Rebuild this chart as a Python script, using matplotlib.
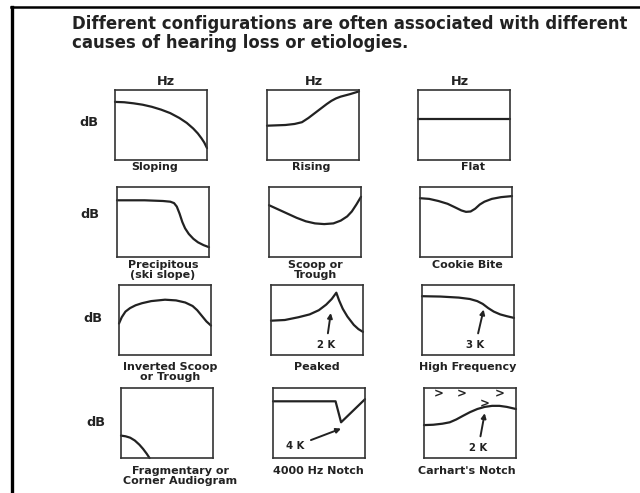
import matplotlib
matplotlib.use("Agg")
import matplotlib.pyplot as plt
from matplotlib.lines import Line2D

W, H = 640, 493
INK = "#222222"

TITLE_LINES = ["Different configurations are often associated with different",
               "causes of hearing loss or etiologies."]

PANEL_NAMES = ["Sloping", "Rising", "Flat",
               "Precipitous\n(ski slope)", "Scoop or\nTrough", "Cookie Bite",
               "Inverted Scoop\nor Trough", "Peaked", "High Frequency",
               "Fragmentary or\nCorner Audiogram", "4000 Hz Notch", "Carhart's Notch"]

# curve shapes, x = frequency (0..1), y = level (0 bottom .. 1 top)
SLOPING_X = [0, 0.1, 0.2, 0.3, 0.4, 0.5, 0.6, 0.7, 0.78, 0.85, 0.9, 0.94, 0.97, 1.0]
SLOPING_Y = [0.83, 0.825, 0.81, 0.79, 0.76, 0.72, 0.67, 0.60, 0.53, 0.45, 0.38, 0.31, 0.25, 0.17]
RISING_X = [0, 0.1, 0.2, 0.3, 0.38, 0.45, 0.5, 0.55, 0.6, 0.65, 0.7, 0.75, 0.8, 0.9, 1.0]
RISING_Y = [0.49, 0.495, 0.50, 0.515, 0.54, 0.60, 0.65, 0.70, 0.75, 0.80, 0.845, 0.88, 0.905, 0.94, 0.98]
FLAT_X = [0, 1.0]
FLAT_Y = [0.58, 0.58]
PRECIP_X = [0, 0.3, 0.5, 0.58, 0.62, 0.65, 0.68, 0.71, 0.74, 0.78, 0.83, 0.88, 0.94, 1.0]
PRECIP_Y = [0.81, 0.81, 0.80, 0.79, 0.77, 0.72, 0.62, 0.50, 0.41, 0.33, 0.26, 0.21, 0.17, 0.14]
SCOOP_X = [0, 0.1, 0.2, 0.3, 0.4, 0.5, 0.6, 0.7, 0.78, 0.85, 0.9, 0.95, 1.0]
SCOOP_Y = [0.74, 0.68, 0.62, 0.56, 0.51, 0.48, 0.47, 0.48, 0.52, 0.58, 0.65, 0.75, 0.86]
COOKIE_X = [0, 0.1, 0.2, 0.3, 0.38, 0.45, 0.5, 0.55, 0.6, 0.65, 0.7, 0.78, 0.88, 1.0]
COOKIE_Y = [0.84, 0.83, 0.80, 0.76, 0.71, 0.665, 0.645, 0.65, 0.69, 0.75, 0.79, 0.83, 0.855, 0.87]
INVSCOOP_X = [0, 0.03, 0.07, 0.12, 0.18, 0.25, 0.35, 0.5, 0.62, 0.72, 0.8, 0.85, 0.9, 0.95, 1.0]
INVSCOOP_Y = [0.45, 0.54, 0.62, 0.67, 0.71, 0.74, 0.77, 0.79, 0.78, 0.75, 0.70, 0.64, 0.56, 0.48, 0.42]
PEAKED_X = [0, 0.15, 0.3, 0.42, 0.52, 0.6, 0.66, 0.71, 0.74, 0.78, 0.83, 0.9, 0.95, 1.0]
PEAKED_Y = [0.49, 0.50, 0.54, 0.58, 0.64, 0.72, 0.80, 0.89, 0.78, 0.66, 0.55, 0.43, 0.37, 0.33]
HIGHFREQ_X = [0, 0.2, 0.4, 0.52, 0.6, 0.66, 0.72, 0.78, 0.85, 0.92, 1.0]
HIGHFREQ_Y = [0.84, 0.835, 0.82, 0.80, 0.77, 0.73, 0.67, 0.62, 0.58, 0.555, 0.53]
FRAG_X = [0, 0.05, 0.1, 0.15, 0.2, 0.24, 0.28, 0.31]
FRAG_Y = [0.32, 0.31, 0.29, 0.25, 0.19, 0.13, 0.06, 0.0]
NOTCH_X = [0, 0.68, 0.74, 1.0]
NOTCH_Y = [0.81, 0.81, 0.51, 0.84]
CARHART_X = [0, 0.1, 0.2, 0.28, 0.35, 0.42, 0.5, 0.58, 0.66, 0.74, 0.82, 0.9, 1.0]
CARHART_Y = [0.47, 0.475, 0.49, 0.51, 0.55, 0.60, 0.655, 0.70, 0.73, 0.745, 0.745, 0.73, 0.70]

CURVES = [(SLOPING_X, SLOPING_Y), (RISING_X, RISING_Y), (FLAT_X, FLAT_Y),
          (PRECIP_X, PRECIP_Y), (SCOOP_X, SCOOP_Y), (COOKIE_X, COOKIE_Y),
          (INVSCOOP_X, INVSCOOP_Y), (PEAKED_X, PEAKED_Y), (HIGHFREQ_X, HIGHFREQ_Y),
          (FRAG_X, FRAG_Y), (NOTCH_X, NOTCH_Y), (CARHART_X, CARHART_Y)]

# arrows pointing at the notch / peak frequency
ARROW_PANEL = [7, 8, 10, 11]
ARROW_TEXT = ["2 K", "3 K", "4 K", "2 K"]
ARROW_HEAD = [(0.65, 0.60), (0.67, 0.65), (0.74, 0.42), (0.66, 0.64)]
ARROW_TAIL = [(0.60, 0.14), (0.58, 0.14), (0.24, 0.17), (0.59, 0.14)]

# the ">" bone conduction marks on Carhart's notch
MARK_X = [0.16, 0.41, 0.82, 0.66]
MARK_Y = [0.91, 0.91, 0.92, 0.77]

# layout in pixels
COL_LEFT = [115, 267, 418]
ROW_SHIFT = [0, 2, 4, 6]
ROW_TOP = [90, 187, 285, 388]
BOX_W, BOX_H = 92, 70
LABEL_X = [155, 311, 473, 163, 315, 467, 170, 317, 468, 180, 318, 467]
LABEL_Y = [167, 265, 367, 471]
HZ_X = [166, 314, 460]
DB_X = [89, 90, 93, 96]
DB_Y = [123, 215, 318, 422]


def fx(px):
    return px / W


def fy(py):
    return 1 - py / H


fig = plt.figure(figsize=(6.4, 4.93), dpi=100)
fig.patch.set_facecolor("white")

# slide frame (left and top edge)
fig.add_artist(Line2D([fx(12), fx(12)], [fy(7), fy(H)], color="black", lw=2.4))
fig.add_artist(Line2D([fx(11), fx(W)], [fy(7), fy(7)], color="black", lw=1.8))

for k, line in enumerate(TITLE_LINES):
    fig.text(fx(72), fy([28.7, 48.5][k]), line, fontsize=11.9, fontweight="bold",
             color=INK, va="baseline", ha="left", family="DejaVu Sans")

for i, name in enumerate(PANEL_NAMES):
    r, c = divmod(i, 3)
    left = COL_LEFT[c] + ROW_SHIFT[r]
    top = ROW_TOP[r]
    ax = fig.add_axes([fx(left), fy(top + BOX_H), BOX_W / W, BOX_H / H])
    ax.set_xlim(0, 1)
    ax.set_ylim(0, 1)
    ax.set_xticks([])
    ax.set_yticks([])
    for sp in ax.spines.values():
        sp.set_linewidth(1.2)
        sp.set_color("#333333")
    xs, ys = CURVES[i]
    ax.plot(xs, ys, color=INK, lw=1.6, clip_on=False, solid_capstyle="round",
            solid_joinstyle="round")

    if i in ARROW_PANEL:
        k = ARROW_PANEL.index(i)
        ax.annotate(ARROW_TEXT[k], xy=ARROW_HEAD[k], xytext=ARROW_TAIL[k],
                    fontsize=7.3, fontweight="bold", color=INK,
                    ha="center", va="center",
                    arrowprops=dict(arrowstyle="-|>", color=INK, lw=1.4,
                                    mutation_scale=7, shrinkA=3, shrinkB=0))
    if i == 11:
        for mx, my in zip(MARK_X, MARK_Y):
            ax.text(mx, my, ">", fontsize=8.5, fontweight="bold", color=INK,
                    ha="center", va="center")

    fig.text(fx(LABEL_X[i]), fy(LABEL_Y[r] - 5.5), name, fontsize=8.0,
             fontweight="bold", color=INK, ha="center", va="top",
             linespacing=1.0, family="DejaVu Sans")

for c in range(3):
    fig.text(fx(HZ_X[c]), fy(81), "Hz", fontsize=9.3, fontweight="bold",
             color=INK, ha="center", va="center", family="DejaVu Sans")
for r in range(4):
    fig.text(fx(DB_X[r]), fy(DB_Y[r]), "dB", fontsize=9.3, fontweight="bold",
             color=INK, ha="center", va="center", family="DejaVu Sans")

fig.savefig("out.png", dpi=100)
